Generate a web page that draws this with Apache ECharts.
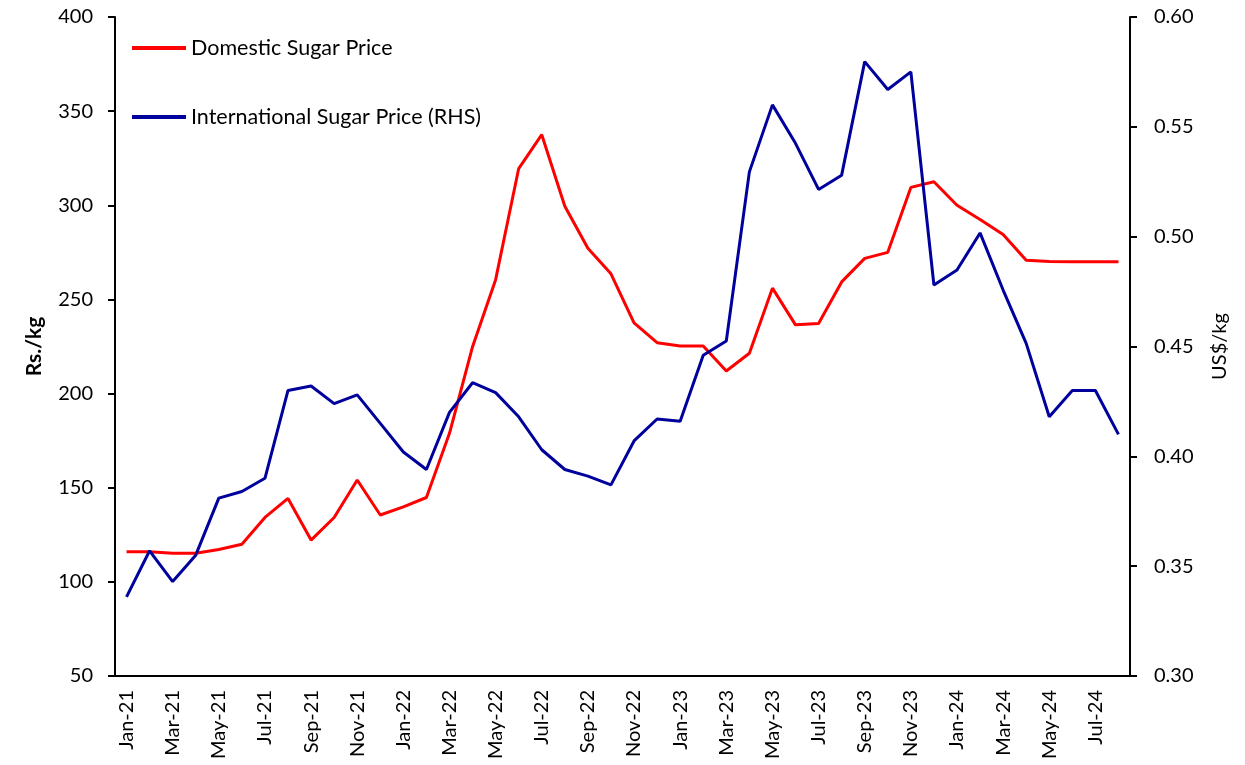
<!DOCTYPE html>
<html>
<head>
<meta charset="utf-8">
<script src="https://cdn.jsdelivr.net/npm/echarts@6/dist/echarts.min.js"></script>
<style>
  html, body { margin: 0; padding: 0; background: #fff; }
  #chart { width: 1245px; height: 765px; }
</style>
</head>
<body>
<div id="chart"></div>
<script>
// months Jan-21 .. Aug-24
var months = ['Jan-21', 'Feb-21', 'Mar-21', 'Apr-21', 'May-21', 'Jun-21', 'Jul-21', 'Aug-21', 'Sep-21', 'Oct-21', 'Nov-21', 'Dec-21',
    'Jan-22', 'Feb-22', 'Mar-22', 'Apr-22', 'May-22', 'Jun-22', 'Jul-22', 'Aug-22', 'Sep-22', 'Oct-22', 'Nov-22', 'Dec-22',
    'Jan-23', 'Feb-23', 'Mar-23', 'Apr-23', 'May-23', 'Jun-23', 'Jul-23', 'Aug-23', 'Sep-23', 'Oct-23', 'Nov-23', 'Dec-23',
    'Jan-24', 'Feb-24', 'Mar-24', 'Apr-24', 'May-24', 'Jun-24', 'Jul-24', 'Aug-24'];

// Rs./kg
var domesticPrice = [116, 116, 115.2, 115.2, 117.2, 120, 134.2, 144.3, 122.2, 134.2, 154.1, 135.5,
    139.8, 144.8, 178.9, 224.9, 260.5, 319.5, 337.5, 299.5, 277.2, 263.6, 237.6, 227,
    225.3, 225.3, 212, 221.4, 256, 236.5, 237.2, 259.3, 271.8, 275, 309.5, 312.5,
    300, 292.5, 284.5, 270.8, 270.2, 270, 270, 270];

// US$/kg
var intlPrice = [0.336, 0.357, 0.343, 0.355, 0.381, 0.384, 0.390, 0.430, 0.432, 0.424, 0.428, 0.415,
    0.402, 0.394, 0.420, 0.4335, 0.429, 0.418, 0.403, 0.394, 0.391, 0.387, 0.407, 0.417,
    0.416, 0.446, 0.4525, 0.5295, 0.560, 0.5425, 0.5215, 0.528, 0.5797, 0.567, 0.575, 0.478,
    0.4848, 0.5017, 0.4757, 0.4514, 0.418, 0.430, 0.430, 0.410];

var font = 'Lato';
var myChart = echarts.init(document.getElementById('chart'));

var option = {
    animation: false,
    textStyle: { fontFamily: font },
    grid: {
        left: 115,
        right: 115,
        top: 17,
        bottom: 89
    },
    legend: {
        orient: 'vertical',
        left: 127,
        top: 32,
        itemWidth: 54,
        itemHeight: 4,
        itemGap: 47,
        icon: 'rect',
        textStyle: { fontFamily: font, fontSize: 21.5, color: '#000' },
        data: ['Domestic Sugar Price', 'International Sugar Price (RHS)']
    },
    xAxis: {
        type: 'category',
        data: months,
        boundaryGap: true,
        axisLine: { lineStyle: { color: '#000', width: 2 } },
        axisTick: { show: false },
        axisLabel: {
            interval: 1,
            rotate: 90,
            fontSize: 20,
            color: '#000',
            margin: 14
        }
    },
    yAxis: [{
        type: 'value',
        name: 'Rs./kg',
        nameLocation: 'middle',
        nameGap: 70,
        nameTextStyle: { fontFamily: font, fontSize: 21, fontWeight: 'bold', color: '#000' },
        min: 50,
        max: 400,
        interval: 50,
        splitLine: { show: false },
        axisLine: { show: true, lineStyle: { color: '#000', width: 2 } },
        axisTick: { show: true, length: 7, lineStyle: { color: '#000', width: 2 } },
        axisLabel: { fontSize: 20, color: '#000', margin: 22 }
    }, {
        type: 'value',
        name: 'US$/kg',
        nameLocation: 'middle',
        nameGap: 80,
        nameRotate: 90,
        nameTextStyle: { fontFamily: font, fontSize: 20, color: '#000' },
        min: 0.30,
        max: 0.60,
        interval: 0.05,
        splitLine: { show: false },
        axisLine: { show: true, lineStyle: { color: '#000', width: 2 } },
        axisTick: { show: true, length: 7, lineStyle: { color: '#000', width: 2 } },
        axisLabel: {
            fontSize: 20,
            color: '#000',
            margin: 24,
            formatter: function (v) { return v.toFixed(2); }
        }
    }],
    series: [{
        name: 'Domestic Sugar Price',
        type: 'line',
        yAxisIndex: 0,
        data: domesticPrice,
        symbol: 'none',
        color: '#FF0000',
        lineStyle: { color: '#FF0000', width: 3 }
    }, {
        name: 'International Sugar Price (RHS)',
        type: 'line',
        yAxisIndex: 1,
        data: intlPrice,
        symbol: 'none',
        color: '#00009C',
        lineStyle: { color: '#00009C', width: 3 }
    }]
};

myChart.setOption(option);
window.addEventListener('resize', function () {
    myChart.resize();
});
</script>
</body>
</html>
